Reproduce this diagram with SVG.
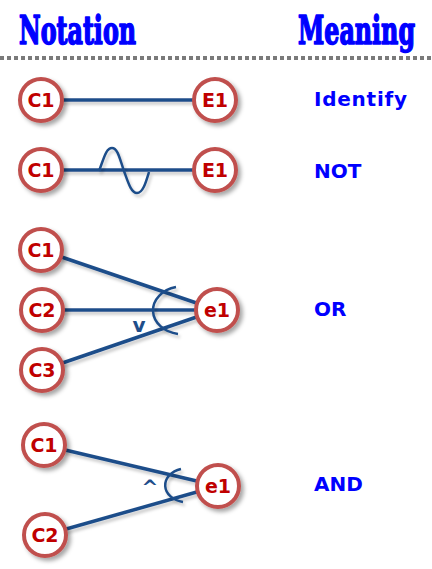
<svg xmlns="http://www.w3.org/2000/svg" width="432" height="569" viewBox="0 0 432 569">
<defs>
<filter id="sh" x="-40%" y="-40%" width="190%" height="190%">
<feDropShadow dx="3" dy="3" stdDeviation="2" flood-color="#000" flood-opacity="0.35"/>
</filter>
<filter id="lsh" filterUnits="userSpaceOnUse" x="0" y="0" width="432" height="569">
<feDropShadow dx="2" dy="3" stdDeviation="1.5" flood-color="#000" flood-opacity="0.2"/>
</filter>
</defs>
<style>
.title{font-family:"DejaVu Serif Condensed","DejaVu Serif","Liberation Serif",serif;font-weight:bold;font-size:39px;fill:#0000ff;stroke:#0000ff;stroke-width:1.6;stroke-linejoin:round}
.mean{font-family:"DejaVu Sans","Verdana",sans-serif;font-weight:bold;font-size:20px;fill:#0000ff}
.node circle{fill:#ffffff;stroke:#c0504d;stroke-width:4;filter:url(#sh)}
.node text{font-family:"DejaVu Sans","Verdana",sans-serif;font-weight:bold;font-size:19px;fill:#c00000;text-anchor:middle}
.edge{stroke:#1f4e8a;stroke-width:3.5;fill:none;filter:url(#lsh)}
.thin{stroke:#1f4e8a;stroke-width:2.5;fill:none;filter:url(#lsh)}
.op{font-family:"DejaVu Sans","Verdana",sans-serif;font-weight:bold;font-size:20px;fill:#1f4e8a;text-anchor:middle}
</style>
<rect width="432" height="569" fill="#ffffff"/>
<text class="title" x="19" y="44" textLength="117" lengthAdjust="spacingAndGlyphs">Notation</text>
<text class="title" x="298" y="44" textLength="117" lengthAdjust="spacingAndGlyphs">Meaning</text>
<line x1="0" y1="58" x2="432" y2="58" stroke="#7a7a7a" stroke-width="4" stroke-dasharray="4 3"/>

<g id="connectors">
<line class="edge" x1="41" y1="100" x2="215" y2="100"/>
<line class="edge" x1="41" y1="170" x2="215" y2="170"/>
<path class="thin" d="M99,171 C104,158 106,148 112,148 C118,148 120,160 124,171 C128,182 131,193 137,193 C143,193 146,182 149,172"/>
<line class="edge" x1="41" y1="250" x2="217" y2="310"/>
<line class="edge" x1="42" y1="310" x2="217" y2="310"/>
<line class="edge" x1="42" y1="370" x2="217" y2="310"/>
<path class="thin" d="M176,287 A30,24 0 0,0 178,334"/>
<text class="op" x="139" y="332">v</text>
<line class="edge" x1="44" y1="445" x2="218" y2="486"/>
<line class="edge" x1="45" y1="535" x2="218" y2="486"/>
<path class="thin" d="M181,469 A22,17 0 0,0 183,502"/>
<text class="op" x="150" y="494">^</text>
</g>

<g id="n-c1-a" class="node"><circle cx="41" cy="100" r="21"/><text x="41" y="107">C1</text></g>
<g id="n-e1-a" class="node"><circle cx="215" cy="100" r="21"/><text x="215" y="107">E1</text></g>
<g id="n-c1-b" class="node"><circle cx="41" cy="170" r="21"/><text x="41" y="177">C1</text></g>
<g id="n-e1-b" class="node"><circle cx="215" cy="170" r="21"/><text x="215" y="177">E1</text></g>
<g id="n-c1-c" class="node"><circle cx="41" cy="250" r="21"/><text x="41" y="257">C1</text></g>
<g id="n-c2-c" class="node"><circle cx="42" cy="310" r="21"/><text x="42" y="317">C2</text></g>
<g id="n-c3-c" class="node"><circle cx="42" cy="370" r="21"/><text x="42" y="377">C3</text></g>
<g id="n-e1-c" class="node"><circle cx="217" cy="310" r="21"/><text x="217" y="317">e1</text></g>
<g id="n-c1-d" class="node"><circle cx="44" cy="445" r="21"/><text x="44" y="452">C1</text></g>
<g id="n-c2-d" class="node"><circle cx="45" cy="535" r="21"/><text x="45" y="542">C2</text></g>
<g id="n-e1-d" class="node"><circle cx="218" cy="486" r="21"/><text x="218" y="493">e1</text></g>

<g id="meanings">
<text class="mean" x="314" y="106" textLength="93" lengthAdjust="spacing">Identify</text>
<text class="mean" x="314" y="178">NOT</text>
<text class="mean" x="314" y="316">OR</text>
<text class="mean" x="314" y="491">AND</text>
</g>
</svg>
